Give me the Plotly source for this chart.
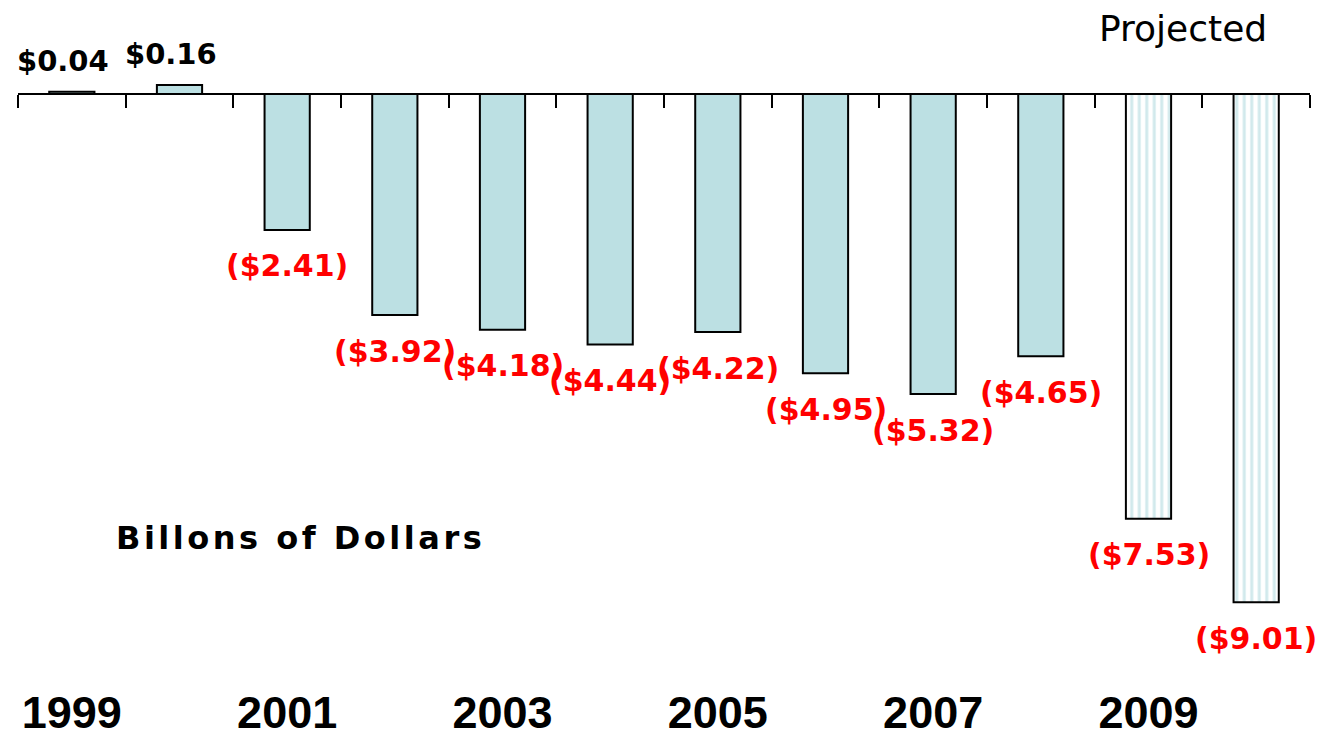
import plotly.graph_objects as go

years = [1999, 2000, 2001, 2002, 2003, 2004, 2005, 2006, 2007, 2008, 2009, 2010]
values = [0.04, 0.16, -2.41, -3.92, -4.18, -4.44, -4.22, -4.95, -5.32, -4.65, -7.53, -9.01]
projected = [False] * 10 + [True, True]
tick_years = [1999, 2001, 2003, 2005, 2007, 2009]
unit_label = "Billons of Dollars"
proj_label = "Projected"

W, H = 1325, 742
ML, MR, MT, MB = 18, 15, 60, 60
plot_h = H - MT - MB
zero_px = 94
px_per_unit = 56.4
ymax = (zero_px - MT) / px_per_unit
ymin = ymax - plot_h / px_per_unit

def fmt(v):
    return f"${v:.2f}" if v >= 0 else f"(${-v:.2f})"

act_x = [y for y, p in zip(years, projected) if not p]
act_y = [v for v, p in zip(values, projected) if not p]
pr_x = [y for y, p in zip(years, projected) if p]
pr_y = [v for v, p in zip(values, projected) if p]

fig = go.Figure()
fig.add_trace(go.Bar(
    x=act_x, y=act_y, width=0.42,
    marker=dict(color="#bce0e3", line=dict(color="black", width=2)),
    hoverinfo="skip", showlegend=False,
))
fig.add_trace(go.Bar(
    x=pr_x, y=pr_y, width=0.42,
    marker=dict(color="white", line=dict(color="black", width=2),
                pattern=dict(shape="|", fgcolor="#a3d3da", bgcolor="white",
                             size=7.5, solidity=0.4)),
    hoverinfo="skip", showlegend=False,
))
# invisible trace to carry the zero-crossing axis
fig.add_trace(go.Scatter(x=[years[0]], y=[0], xaxis="x2", mode="markers",
                         marker=dict(opacity=0), hoverinfo="skip", showlegend=False))

annotations = []
for y, v in zip(years, values):
    if v >= 0:
        annotations.append(dict(x=y, y=v, xref="x", yref="y", text=f"<b>{fmt(v)}</b>",
                                showarrow=False, yanchor="middle", yshift=31, xshift=-9,
                                font=dict(family="DejaVu Sans", size=29, color="black")))
    else:
        annotations.append(dict(x=y, y=v, xref="x", yref="y", text=f"<b>{fmt(v)}</b>",
                                showarrow=False, yanchor="middle", yshift=-36,
                                font=dict(family="DejaVu Sans", size=30, color="#ff0000")))

plot_w = W - ML - MR
def px_x(px):
    return (px - ML) / plot_w
def px_y(py):
    return (H - MB - py) / plot_h

annotations.append(dict(x=px_x(1183), y=px_y(28), xref="paper", yref="paper",
                        text=proj_label, showarrow=False, xanchor="center", yanchor="middle",
                        font=dict(family="DejaVu Sans", size=36, color="black")))
annotations.append(dict(x=px_x(300), y=px_y(538), xref="paper", yref="paper",
                        text=f'<span style="letter-spacing:3.5px"><b>{unit_label}</b></span>',
                        showarrow=False, xanchor="center", yanchor="middle",
                        font=dict(family="DejaVu Sans", size=32, color="black")))

zero_pos = (0 - ymin) / (ymax - ymin)

fig.update_layout(
    width=W, height=H,
    margin=dict(l=ML, r=MR, t=MT, b=MB, autoexpand=False),
    paper_bgcolor="white", plot_bgcolor="white",
    barmode="overlay",
    annotations=annotations,
    xaxis=dict(range=[1998.5, 2010.5], tickvals=tick_years,
               ticktext=[str(t) for t in tick_years], automargin=False,
               showline=False, showgrid=False, zeroline=False, ticks="",
               tickfont=dict(family="Liberation Sans", size=45, color="black", weight="bold")),
    xaxis2=dict(overlaying="x", matches="x", anchor="free", position=zero_pos,
                side="bottom", range=[1998.5, 2010.5], automargin=False,
                tickvals=[1998.5 + i for i in range(13)],
                showticklabels=False, ticks="outside", ticklen=13, tickwidth=2,
                tickcolor="black", showline=True, linecolor="black", linewidth=2,
                showgrid=False, zeroline=False),
    yaxis=dict(range=[ymin, ymax], visible=False, showgrid=False, zeroline=False,
               automargin=False),
)

fig.write_html("out.html", config={"displayModeBar": False},
               post_script="document.body.style.margin='0px';")
